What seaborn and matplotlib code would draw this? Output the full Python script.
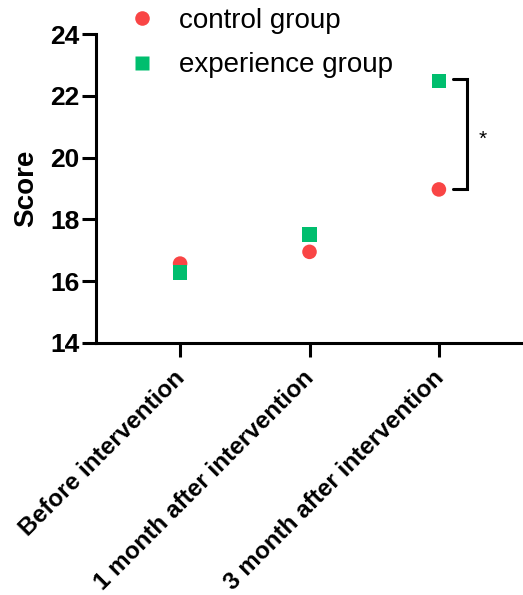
import pandas as pd
import numpy as np
import matplotlib
matplotlib.use('Agg')
import matplotlib.pyplot as plt
from matplotlib.transforms import ScaledTranslation
import seaborn as sns

timepoints = ['Before intervention', '1 month after intervention', '3 month after intervention']
control_scores = [16.57, 16.95, 18.97]
experience_scores = [16.28, 17.52, 22.48]
groups = ['control group', 'experience group']
group_colors = {'control group': '#F94545', 'experience group': '#00BE6E'}
group_markers = {'control group': 'o', 'experience group': 's'}

df = pd.DataFrame({
    'Time': timepoints * 2,
    'Score': control_scores + experience_scores,
    'Group': [groups[0]] * 3 + [groups[1]] * 3,
})

sns.set_style('ticks', {'text.color': 'black', 'axes.labelcolor': 'black',
                        'xtick.color': 'black', 'ytick.color': 'black',
                        'axes.edgecolor': 'black'})
plt.rcParams['font.family'] = ['Liberation Sans', 'DejaVu Sans']

fig = plt.figure(figsize=(5.23, 5.95), dpi=100)
ax = fig.add_axes([96 / 523, 1 - 343 / 595, 1 - 96 / 523, (343 - 34) / 595])

sns.scatterplot(data=df, x='Time', y='Score', hue='Group', style='Group',
                palette=group_colors, markers=group_markers, s=110,
                edgecolor='none', ax=ax, zorder=3)

ax.set_ylim(14, 24)
ax.set_yticks([14, 16, 18, 20, 22, 24])
ax.set_xlim(-0.65, 2.65)
ax.set_xlabel('')
ax.set_ylabel('Score', fontsize=20, fontweight='bold', labelpad=8)

for side in ['top', 'right']:
    ax.spines[side].set_visible(False)
for side in ['left', 'bottom']:
    ax.spines[side].set_linewidth(2.2)
ax.tick_params(axis='both', width=2.2, length=10, color='black')
ax.tick_params(axis='y', labelsize=19, pad=2)
ax.tick_params(axis='x', labelsize=17.5, pad=7)
for lbl in ax.get_yticklabels():
    lbl.set_fontweight('bold')
ax.set_xticks(range(len(timepoints)))
ax.set_xticklabels(timepoints, rotation=45, ha='right', rotation_mode='anchor',
                   fontweight='bold')
shift = ScaledTranslation(-5 / 72, 0, fig.dpi_scale_trans)
for lbl in ax.get_xticklabels():
    lbl.set_transform(lbl.get_transform() + shift)

# significance bracket between the two groups at the last timepoint
x_br = 2 + 0.22
y_top = experience_scores[2]
y_bot = control_scores[2]
ax.plot([x_br - 0.11, x_br, x_br, x_br - 0.11], [y_top + 0.05, y_top + 0.05, y_bot, y_bot],
        color='black', lw=2.2, clip_on=False, solid_joinstyle='miter')
ax.text(x_br + 0.12, (y_top + y_bot) / 2 - 0.12, '*', fontsize=15, ha='center', va='center')

handles, labels = ax.get_legend_handles_labels()
ax.legend(handles, labels, loc='upper left', bbox_to_anchor=(114 / 523, 1 - 8 / 595),
          bbox_transform=fig.transFigure, frameon=False, fontsize=20,
          borderpad=0, borderaxespad=0, handlelength=2.0,
          handletextpad=0.35, labelspacing=0.66)

plt.savefig('out.png', dpi=100)
